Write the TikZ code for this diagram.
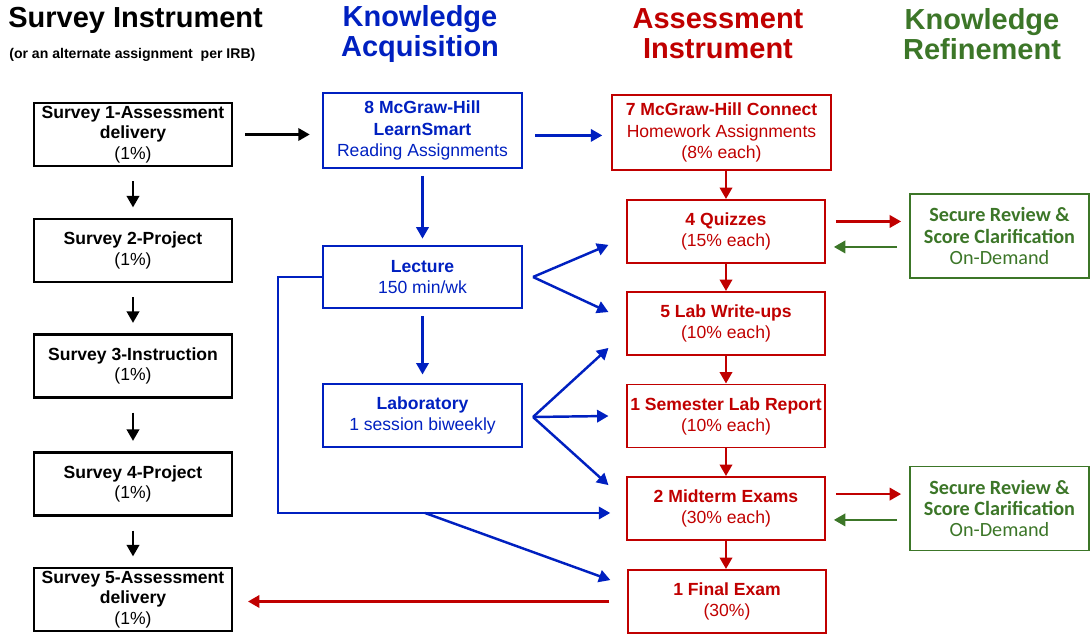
\documentclass[tikz,border=0pt]{standalone}
\usepackage{fontspec}
\setmainfont{Liberation Sans}
\newfontfamily\calib{Carlito}
\usetikzlibrary{arrows.meta}
\definecolor{acqblue}{RGB}{0,32,192}
\definecolor{asmred}{RGB}{192,0,0}
\definecolor{refgreen}{RGB}{60,118,40}

\begin{document}
\begin{tikzpicture}[x=0.02cm,y=-0.02cm,>={Triangle[length=6.5pt,width=7pt]}]
	\useasboundingbox (0,0) rectangle (1090,634);

\begin{scope}[every node/.style={font=\fontsize{16.5}{17}\selectfont\bfseries,align=center,inner sep=0pt}]
    \node[anchor=west] (hSurv) at (8,20) {Survey Instrument};
    \node[anchor=west,font=\fontsize{8}{9}\selectfont\bfseries] (hIRB) at (9,55) {(or an alternate assignment\ \ per IRB)};
    \node[text=acqblue] (hAcq) at (420,34) {Knowledge\\Acquisition};
    \node[text=asmred] (hAsm) at (718,34) {Assessment\\Instrument};
    \node[text=refgreen] (hRef) at (982,34) {Knowledge\\Refinement};
\end{scope}

\begin{scope}[every node/.style={draw=black,line width=1.2pt,align=center,inner sep=0pt,minimum width=3.96cm,minimum height=1.26cm,font=\fontsize{10}{11.6}\selectfont}]
    \node (S1) at (133,134.5) {\textbf{Survey 1-Assessment}\\\textbf{delivery}\\(1\%)};
    \node (S2) at (133,250.5) {\textbf{Survey 2-Project}\\(1\%)};
    \node (S3) at (133,366) {\textbf{Survey 3-Instruction}\\(1\%)};
    \node (S4) at (133,484) {\textbf{Survey 4-Project}\\(1\%)};
    \node (S5) at (133,599.5) {\textbf{Survey 5-Assessment}\\\textbf{delivery}\\(1\%)};
\end{scope}

\begin{scope}[every node/.style={draw=acqblue,text=acqblue,line width=1.1pt,align=center,inner sep=0pt,minimum width=3.98cm,minimum height=1.25cm,font=\fontsize{10}{12}\selectfont}]
    \node[minimum height=1.5cm] (LS) at (422.5,130.5) {\textbf{8 McGraw-Hill}\\\textbf{LearnSmart}\\Reading Assignments};
    \node (Lec) at (422.5,277) {\textbf{Lecture}\\150 min/wk};
    \node (Lab) at (422.5,415.5) {\textbf{Laboratory}\\1 session biweekly};
\end{scope}

\begin{scope}[every node/.style={draw=asmred,text=asmred,line width=1.1pt,align=center,inner sep=0pt,minimum width=3.96cm,minimum height=1.26cm,font=\fontsize{10}{12}\selectfont}]
    \node[minimum width=4.38cm,minimum height=1.5cm] (Con) at (721.5,132.5) {\textbf{7 McGraw-Hill Connect}\\Homework Assignments\\(8\% each)};
    \node (Qz) at (726,231.5) {\textbf{4 Quizzes}\\(15\% each)};
    \node (LW) at (726,323.5) {\textbf{5 Lab Write-ups}\\(10\% each)};
    \node (SLR) at (726,416) {\textbf{1 Semester Lab Report}\\(10\% each)};
    \node (Mid) at (726,508.5) {\textbf{2 Midterm Exams}\\(30\% each)};
    \node (Fin) at (727,601.5) {\textbf{1 Final Exam}\\(30\%)};
\end{scope}

\begin{scope}[every node/.style={draw=refgreen,text=refgreen,line width=1.1pt,align=center,inner sep=0pt,minimum width=3.58cm,minimum height=1.68cm,font=\calib\fontsize{11.5}{12}\selectfont}]
    \node (Rv1) at (999.5,236) {\textbf{Secure Review \&}\\\textbf{Score Clarification}\\On-Demand};
    \node (Rv2) at (999.5,508.5) {\textbf{Secure Review \&}\\\textbf{Score Clarification}\\On-Demand};
\end{scope}

\coordinate (LecFan) at (533,277);
\coordinate (LabFan) at (533,417);
\coordinate (LecBus) at (278,513);
\coordinate (FinTap) at (425,513);

\begin{scope}[every edge/.style={draw=black,line width=1.4pt,shorten <=8pt,shorten >=6pt}]
    \path [->] (S1) edge (S2);
    \path [->] (S2) edge (S3);
    \path [->] (S3) edge (S4);
    \path [->] (S4) edge (S5);
    \path [->] (S1.east) edge[shorten <=7pt,shorten >=7pt] (S1.east -| LS.west);
\end{scope}

\begin{scope}[every edge/.style={draw=acqblue,line width=1.4pt}]
    \path [->] ([yshift=-2.8pt]LS.east) edge[shorten <=7pt,shorten >=5pt] ([yshift=-2.8pt]LS.east -| Con.west);
    \path [->] (LS) edge[shorten <=4pt,shorten >=3.5pt] (Lec);
    \path [->] (Lec) edge[shorten <=4pt,shorten >=5pt] (Lab);
    \path [->] (LecFan) edge ([xshift=-10pt,yshift=-7.6pt]Qz.west);
    \path [->] (LecFan) edge ([xshift=-10pt,yshift=6.5pt]LW.west);
    \path [->] (LabFan) edge ([xshift=-10pt,yshift=-13.9pt]LW.west);
    \path [->] (LabFan) edge ([xshift=-10pt]SLR.west);
    \path [->] (LabFan) edge ([xshift=-10pt,yshift=13.3pt]Mid.west);
    \path [->] (FinTap) edge ([xshift=-9.5pt,yshift=12.2pt]Fin.west);
\end{scope}
\draw [acqblue,line width=1.4pt,->,shorten >=9pt] (Lec.west) -| (LecBus) -- (LecBus -| Mid.west);

\begin{scope}[every edge/.style={draw=asmred,line width=1.4pt}]
    \path [->] (Con.south -| Qz) edge (Qz.north);
    \path [->] (Qz) edge (LW);
    \path [->] (LW) edge (SLR);
    \path [->] (SLR) edge (Mid);
    \path [->] (Mid) edge (Mid |- Fin.north);
    \path [->] ([yshift=5.7pt]Qz.east) edge[shorten <=5.7pt,shorten >=4.5pt] ([yshift=5.7pt]Qz.east -| Rv1.west);
    \path [->] ([yshift=8.2pt]Mid.east) edge[shorten <=5.7pt,shorten >=4.5pt] ([yshift=8.2pt]Mid.east -| Rv2.west);
    \path [->] (Fin.west) edge[shorten <=10pt,shorten >=8.5pt] (Fin.west -| S5.east);
    \path [->] ([yshift=-8.8pt]Qz.east -| Rv1.west) edge[draw=refgreen,shorten <=6.8pt,shorten >=4.5pt] ([yshift=-8.8pt]Qz.east);
    \path [->] ([yshift=-6.5pt]Mid.east -| Rv2.west) edge[draw=refgreen,shorten <=6.8pt,shorten >=4.5pt] ([yshift=-6.5pt]Mid.east);
\end{scope}
	\end{tikzpicture}
\end{document}
